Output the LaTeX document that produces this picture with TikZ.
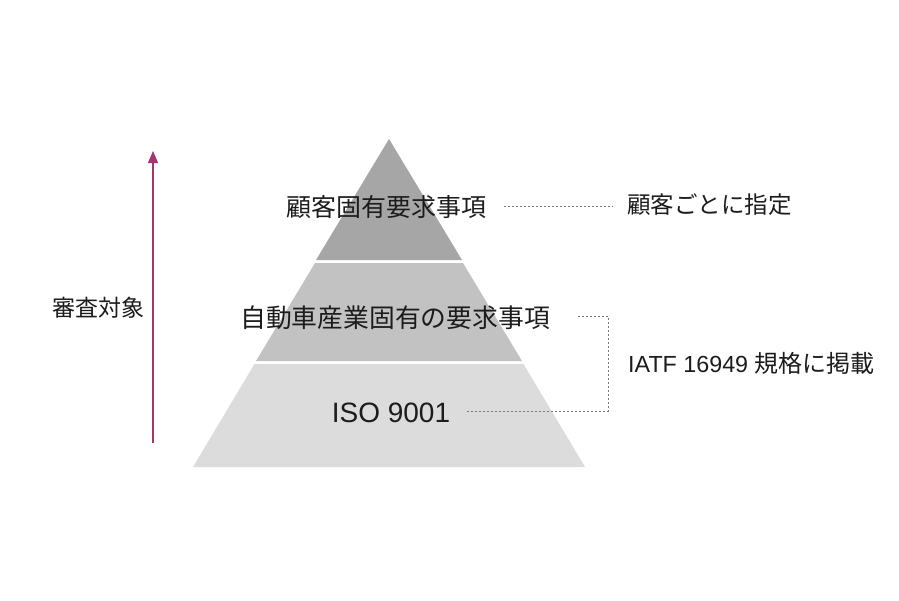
\documentclass[tikz,border=0pt]{standalone}
\usepackage{fontspec}
\setmainfont{Liberation Sans}
\newfontfamily\cjk{Noto Sans CJK JP}
\usetikzlibrary{arrows.meta}
\definecolor{txt}{HTML}{1C1C1C}
\definecolor{layerA}{HTML}{A6A6A6}
\definecolor{layerB}{HTML}{C2C2C2}
\definecolor{layerC}{HTML}{DCDCDC}
\definecolor{arrowc}{HTML}{A8346F}
\definecolor{dotc}{HTML}{7A7A7A}
\tikzset{
  lbl/.style={inner sep=0pt, text=txt, anchor=center},
  dotline/.style={dotc, line width=1pt, dash pattern=on 2pt off 2pt},
}
\begin{document}
\begin{tikzpicture}[x=1pt,y=-1pt]
\useasboundingbox (0,0) rectangle (899,600);
\fill[white] (0,0) rectangle (899,600);
% pyramid layers
\fill[layerA] (389,139) -- (462,260) -- (316,260) -- cycle;
\fill[layerB] (315,263) -- (463,263) -- (522,361) -- (256,361) -- cycle;
\fill[layerC] (254.5,364) -- (523.5,364) -- (585,467) -- (193,467) -- cycle;
% texts in pyramid
\node[lbl] (t1) at (386,207) {\cjk\fontsize{25}{28}\selectfont 顧客固有要求事項};
\node[lbl] (t2) at (395,318) {\cjk\fontsize{25.8}{30}\selectfont 自動車産業固有の要求事項};
\node[lbl] (t3) at (391,413) {\fontsize{28}{32}\selectfont ISO 9001};
% right labels
\node[lbl, anchor=west] (r1) at (627,205) {\cjk\fontsize{23.5}{28}\selectfont 顧客ごとに指定};
\node[lbl, anchor=west] (r2) at (628,363) {\fontsize{23.3}{28}\selectfont IATF 16949 {\cjk\fontsize{24}{28}\selectfont 規格に掲載}};
% left label
\node[lbl] (l1) at (98,308) {\cjk\fontsize{23}{28}\selectfont 審査対象};
% dotted connectors
\coordinate (d1) at (504,206);
\coordinate (d2) at (613,206);
\draw[dotline] (d1) -- (d2);
\coordinate (c0) at (578,316);
\coordinate (c1) at (608,316);
\coordinate (c2) at (608,411);
\coordinate (c3) at (467,411);
\draw[dotline] (c0) -- (c1) -- (c2) -- (c3);
% arrow
\coordinate (a0) at (153,443);
\coordinate (a1) at (153,151);
\draw[arrowc, line width=1.3pt, -{Triangle[length=12pt,width=10pt]}] (a0) -- (a1);
\end{tikzpicture}
\end{document}
